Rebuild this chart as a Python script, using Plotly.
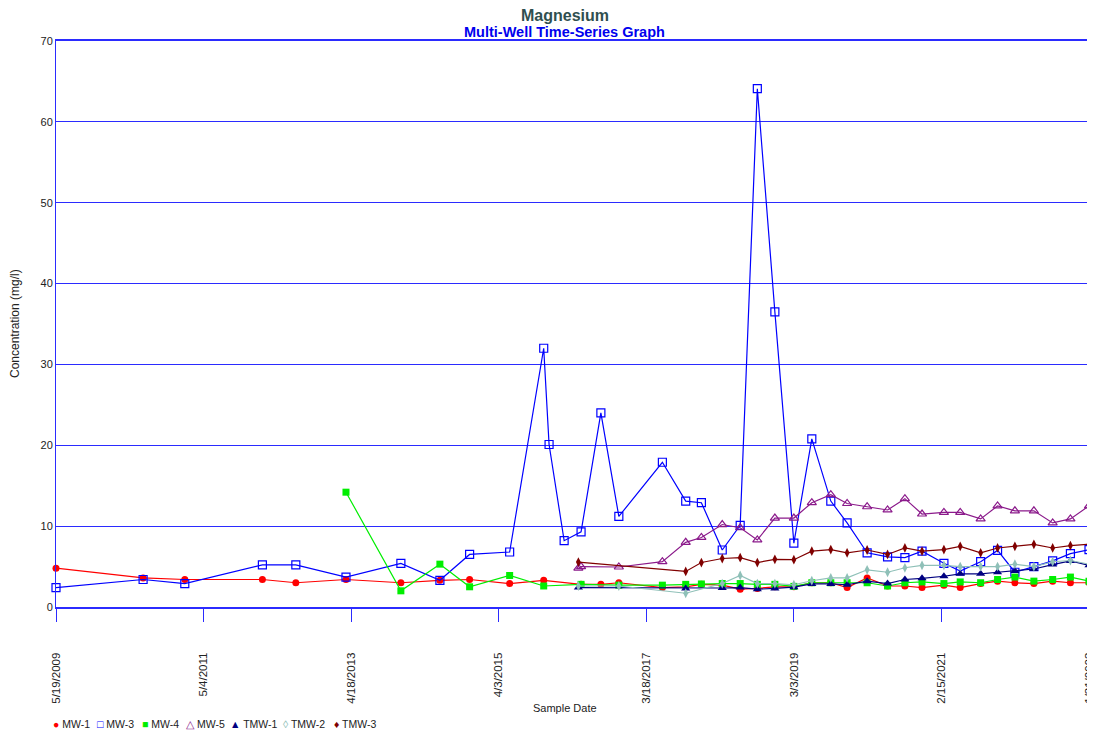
import plotly.graph_objects as go

# ---------------- data ----------------
mw1_dates = ["2009-05-19", "2010-07-15", "2011-02-02", "2012-02-13", "2012-07-24", "2013-03-24",
             "2013-12-15", "2014-06-22", "2014-11-13", "2015-05-26", "2015-11-07", "2016-05-06",
             "2016-08-10", "2016-11-05", "2017-06-04", "2017-09-25", "2017-12-10", "2018-03-21",
             "2018-06-16", "2018-09-07", "2018-12-01", "2019-03-03", "2019-05-29", "2019-08-29",
             "2019-11-16", "2020-02-21", "2020-05-30", "2020-08-22", "2020-11-13", "2021-02-27",
             "2021-05-17", "2021-08-24", "2021-11-14", "2022-02-06", "2022-05-09", "2022-08-08",
             "2022-11-02", "2023-01-31"]
mw1_values = [4.8, 3.6, 3.4, 3.4, 3.0, 3.4,
              3.0, 3.3, 3.4, 2.9, 3.3, 2.8,
              2.8, 3.0, 2.4, 2.5, 2.8, 2.7,
              2.2, 2.3, 2.5, 2.5, 3.0, 3.0,
              2.4, 3.6, 2.6, 2.6, 2.4, 2.7,
              2.4, 2.9, 3.2, 3.0, 2.9, 3.2,
              3.0, 3.0]

mw3_dates = ["2009-05-19", "2010-07-15", "2011-02-02", "2012-02-13", "2012-07-24", "2013-03-24",
             "2013-12-15", "2014-06-22", "2014-11-13", "2015-05-26", "2015-11-07", "2015-12-03",
             "2016-02-14", "2016-05-06", "2016-08-10", "2016-11-05", "2017-06-04", "2017-09-25",
             "2017-12-10", "2018-03-21", "2018-06-16", "2018-09-07", "2018-12-01", "2019-03-03",
             "2019-05-29", "2019-08-29", "2019-11-16", "2020-02-21", "2020-05-30", "2020-08-22",
             "2020-11-13", "2021-02-27", "2021-05-17", "2021-08-24", "2021-11-14", "2022-02-06",
             "2022-05-09", "2022-08-08", "2022-11-02", "2023-01-31"]
mw3_values = [2.4, 3.4, 2.9, 5.2, 5.2, 3.7,
              5.4, 3.3, 6.5, 6.8, 32.0, 20.1,
              8.2, 9.3, 24.0, 11.2, 17.9, 13.1,
              12.9, 7.05, 10.1, 64.1, 36.5, 7.9,
              20.8, 13.1, 10.4, 6.7, 6.2, 6.1,
              6.9, 5.4, 4.45, 5.6, 7.0, 4.3,
              5.0, 5.7, 6.6, 7.1]

mw4_dates = ["2013-03-24", "2013-12-15", "2014-06-22", "2014-11-13", "2015-05-26", "2015-11-07",
             "2016-05-06", "2016-11-05", "2017-06-04", "2017-09-25", "2017-12-10", "2018-03-21",
             "2018-06-16", "2018-09-07", "2018-12-01", "2019-03-03", "2019-05-29", "2019-08-29",
             "2019-11-16", "2020-02-21", "2020-05-30", "2020-08-22", "2020-11-13", "2021-02-27",
             "2021-05-17", "2021-08-24", "2021-11-14", "2022-02-06", "2022-05-09", "2022-08-08",
             "2022-11-02", "2023-01-31"]
mw4_values = [14.2, 2.0, 5.3, 2.5, 3.9, 2.6,
              2.8, 2.7, 2.7, 2.8, 2.85, 2.9,
              2.9, 2.8, 2.8, 2.55, 3.0, 3.0,
              3.0, 3.0, 2.6, 3.0, 3.1, 2.9,
              3.1, 3.0, 3.4, 3.7, 3.2, 3.4,
              3.7, 3.2]

mw5_dates = ["2016-04-23", "2016-05-06", "2016-11-05", "2017-06-04", "2017-09-25", "2017-12-10",
             "2018-03-21", "2018-06-16", "2018-09-07", "2018-12-01", "2019-03-03", "2019-05-29",
             "2019-08-29", "2019-11-16", "2020-02-21", "2020-05-30", "2020-08-22", "2020-11-13",
             "2021-02-27", "2021-05-17", "2021-08-24", "2021-11-14", "2022-02-06", "2022-05-09",
             "2022-08-08", "2022-11-02", "2023-01-31"]
mw5_values = [4.8, 5.0, 4.95, 5.6, 8.0, 8.6,
              10.2, 9.8, 8.3, 11.0, 11.0, 12.9,
              13.9, 12.8, 12.4, 12.0, 13.4, 11.5,
              11.7, 11.7, 10.9, 12.5, 11.9, 11.9,
              10.4, 10.9, 12.5]

tmw1_dates = ["2016-04-23", "2017-09-25", "2018-03-21", "2018-06-16", "2018-09-07", "2018-12-01",
              "2019-03-03", "2019-05-29", "2019-08-29", "2019-11-16", "2020-02-21", "2020-05-30",
              "2020-08-22", "2020-11-13", "2021-02-27", "2021-05-17", "2021-08-24", "2021-11-14",
              "2022-02-06", "2022-05-09", "2022-08-08", "2022-11-02", "2023-01-31"]
tmw1_values = [2.4, 2.3, 2.35, 2.4, 2.2, 2.3,
               2.45, 2.85, 2.85, 2.75, 3.2, 2.9,
               3.4, 3.55, 3.8, 4.1, 4.1, 4.3,
               4.45, 4.7, 5.25, 5.7, 5.15]

tmw2_dates = ["2016-04-23", "2016-11-05", "2017-09-25", "2018-03-21", "2018-06-16", "2018-09-07",
              "2018-12-01", "2019-03-03", "2019-05-29", "2019-08-29", "2019-11-16", "2020-02-21",
              "2020-05-30", "2020-08-22", "2020-11-13", "2021-02-27", "2021-05-17", "2021-08-24",
              "2021-11-14", "2022-02-06", "2022-05-09", "2022-08-08", "2022-11-02", "2023-01-31"]
tmw2_values = [2.6, 2.6, 1.7, 2.9, 3.9, 2.9,
               2.9, 2.75, 3.25, 3.6, 3.6, 4.6,
               4.3, 4.85, 5.15, 5.15, 5.0, 5.0,
               5.0, 5.3, 5.0, 5.6, 5.75, 5.3]

tmw3_dates = ["2016-04-23", "2017-09-25", "2017-12-10", "2018-03-21", "2018-06-16", "2018-09-07",
              "2018-12-01", "2019-03-03", "2019-05-29", "2019-08-29", "2019-11-16", "2020-02-21",
              "2020-05-30", "2020-08-22", "2020-11-13", "2021-02-27", "2021-05-17", "2021-08-24",
              "2021-11-14", "2022-02-06", "2022-05-09", "2022-08-08", "2022-11-02", "2023-01-31"]
tmw3_values = [5.55, 4.4, 5.5, 6.0, 6.1, 5.5,
               5.9, 5.85, 6.9, 7.1, 6.7, 7.05,
               6.5, 7.3, 6.9, 7.1, 7.5, 6.7,
               7.3, 7.5, 7.75, 7.3, 7.6, 7.75]

tick_dates = ["2009-05-19", "2011-05-04", "2013-04-18", "2015-04-03",
              "2017-03-18", "2019-03-03", "2021-02-15", "2023-01-31"]
tick_labels = ["5/19/2009", "5/4/2011", "4/18/2013", "4/3/2015",
               "3/18/2017", "3/3/2019", "2/15/2021", "1/31/2023"]
y_ticks = [0, 10, 20, 30, 40, 50, 60, 70]

# ---------------- styles ----------------
FONT = "Liberation Sans, Arial, sans-serif"
series = [
    ("MW-1", mw1_dates, mw1_values, "#FF0000", "circle", 7, "●"),
    ("MW-3", mw3_dates, mw3_values, "#0000FF", "square-open", 8, "□"),
    ("MW-4", mw4_dates, mw4_values, "#00EE00", "square", 7, "■"),
    ("MW-5", mw5_dates, mw5_values, "#8B1A8B", "triangle-up-open", 8, "△"),
    ("TMW-1", tmw1_dates, tmw1_values, "#000080", "triangle-up", 8, "▲"),
    ("TMW-2", tmw2_dates, tmw2_values, "#8FC0B8", "diamond-tall", 7, "◊"),
    ("TMW-3", tmw3_dates, tmw3_values, "#800000", "diamond-tall", 7, "♦"),
]

fig = go.Figure()
for name, d, v, col, sym, sz, _g in series:
    mk = dict(symbol=sym, size=sz, color=col)
    if sym.endswith("open"):
        mk["line"] = dict(color=col, width=1.2)
    fig.add_trace(go.Scatter(x=d, y=v, name=name, mode="lines+markers",
                             line=dict(color=col, width=1.2), marker=mk,
                             showlegend=False, cliponaxis=False))

GRID = "#2B2BFF"
# The page body has an 8px margin, so the figure is sized/margined to place
# the plot area at the same page pixels as the reference.
fig.update_layout(
    width=1095, height=728,
    margin=dict(l=48, r=14, t=33, b=129, autoexpand=False),
    paper_bgcolor="white", plot_bgcolor="white",
    font=dict(family=FONT, size=11, color="#222222"),
    showlegend=False,
)
fig.update_xaxes(
    type="date", range=[tick_dates[0], tick_dates[-1]], automargin=False,
    tickmode="array", tickvals=tick_dates, ticktext=tick_labels,
    tickangle=-90, ticks="outside", ticklen=13, tickwidth=1, tickcolor=GRID,
    ticklabelstandoff=26, ticklabeloverflow="allow",
    showgrid=False, showline=True, linecolor=GRID, linewidth=2, mirror=True,
    tickfont=dict(size=11.5, color="#222222"),
)
fig.update_yaxes(
    range=[0, 70], tickmode="array", tickvals=y_ticks, automargin=False,
    showgrid=True, gridcolor=GRID, gridwidth=1,
    zeroline=True, zerolinecolor=GRID, zerolinewidth=2,
    showline=True, linecolor=GRID, linewidth=1, mirror=True,
    ticks="", tickfont=dict(size=11, color="#222222"),
)

ann = [
    dict(text="<b>Magnesium</b>", x=0.4927, y=1.0459, xref="paper", yref="paper",
         xanchor="center", yanchor="middle",
         showarrow=False, font=dict(size=16, color="#2F4F4F", family=FONT)),
    dict(text="<b>Multi-Well Time-Series Graph</b>", x=0.4927, y=1.0159, xref="paper", yref="paper",
         xanchor="center", yanchor="middle",
         showarrow=False, font=dict(size=14.5, color="#0000EE", family=FONT)),
    dict(text="Concentration (mg/l)", x=0, xshift=-41, y=0.5, xref="paper", yref="paper",
         xanchor="center", yanchor="middle",
         textangle=-90, showarrow=False, font=dict(size=12, color="#222222", family=FONT)),
    dict(text="Sample Date", x=0.4927, y=0, yshift=-101, xref="paper", yref="paper",
         xanchor="center", yanchor="middle",
         showarrow=False, font=dict(size=11, color="#222222", family=FONT)),
]
legend_x = [51, 95, 140, 184, 228, 281, 332]
for (name, d, v, col, sym, sz, glyph), lx in zip(series, legend_x):
    ann.append(dict(text=f"<span style='color:{col}'>{glyph}</span> {name}",
                    x=0, xshift=lx - 56, y=0, yshift=-117, xref="paper", yref="paper",
                    xanchor="left", yanchor="middle", showarrow=False,
                    font=dict(size=10.5, color="#222222", family=FONT)))
fig.update_layout(annotations=ann)

fig.write_html("out.html")
